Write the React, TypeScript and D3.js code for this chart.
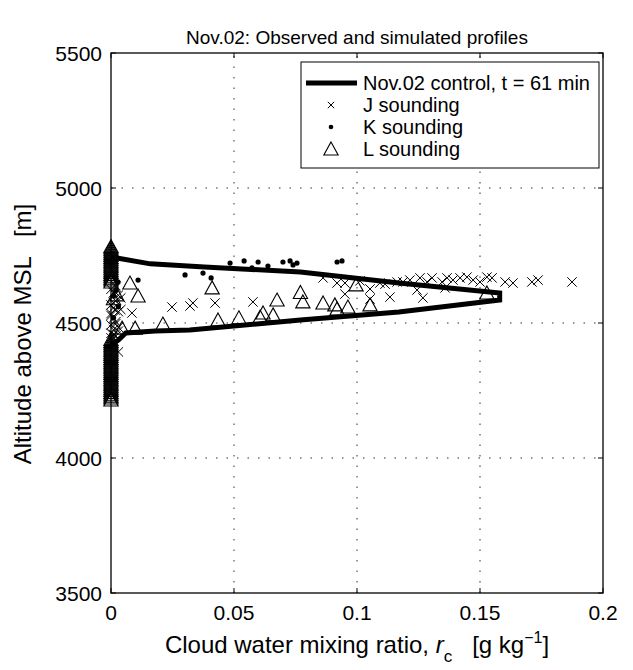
import React from "react";
import * as d3 from "d3";

// simulated profile (Nov.02 control, t = 61 min)
const controlAlt = [4419, 4437, 4463, 4470, 4474, 4511, 4541, 4585, 4611, 4648, 4689, 4707, 4719, 4741, 4744];
const controlRc = [0, 0.003, 0.006, 0.018, 0.032, 0.077, 0.117, 0.158, 0.158, 0.117, 0.077, 0.038, 0.016, 0.0024, 0];

// J sounding
const jRc = [
  0, 0.002, 0, 0.001, 0.003, 0, 0.002, 0.001, 0, 0.003, 0.001, 0, 0.002, 0.004, 0.001, 0, 0.002, 0.003,
  0.001, 0.003, 0.002, 0, 0.004, 0.001, 0.003, 0.002,
  0.0016, 0.0085, 0.0248, 0.0321, 0.0333, 0.0423, 0.0577, 0.0862, 0.0919, 0.0951, 0.0951, 0.1053, 0.1053,
  0.1093, 0.1114, 0.1012, 0.1134, 0.1163, 0.1187, 0.1215, 0.1244, 0.1256, 0.1268, 0.1285, 0.1305, 0.1346,
  0.1358, 0.1366, 0.139, 0.1419, 0.1447, 0.1472, 0.15, 0.1528, 0.1549, 0.1602, 0.1634, 0.1711, 0.1736, 0.1874,
];
const jAlt = [
  4445, 4452, 4462, 4475, 4484, 4493, 4505, 4518, 4528, 4542, 4556, 4567, 4582, 4593, 4612, 4625, 4638, 4393,
  4458, 4470, 4498, 4535, 4550, 4575, 4603, 4632,
  4548, 4537, 4559, 4563, 4574, 4574, 4578, 4667, 4648, 4648, 4607, 4626, 4589,
  4648, 4644, 4656, 4596, 4652, 4652, 4659, 4622, 4667, 4593, 4652, 4667, 4652,
  4630, 4667, 4659, 4667, 4670, 4659, 4652, 4670, 4667, 4652, 4648, 4652, 4659, 4652,
];

// K sounding
const kRc = [
  0.001, 0.002, 0.003, 0.001, 0.0028, 0.011, 0.0301, 0.0374, 0.0407, 0.0484, 0.0541, 0.0573, 0.0598,
  0.0638, 0.0699, 0.0728, 0.074, 0.0756, 0.0919, 0.0939,
];
const kAlt = [
  4600, 4620, 4560, 4520, 4652, 4659, 4678, 4685, 4667, 4722, 4730, 4704, 4726,
  4711, 4726, 4730, 4715, 4722, 4726, 4730,
];

// L sounding, non-zero values
const lRc = [
  0.0024, 0.0077, 0.011, 0.0045, 0.0098, 0.0211, 0.0411, 0.0435, 0.052, 0.0606, 0.0618, 0.0659, 0.0675,
  0.077, 0.078, 0.0862, 0.091, 0.0919, 0.0963, 0.0996, 0.1053, 0.1528, 0.001,
];
const lAlt = [
  4604, 4648, 4600, 4481, 4481, 4496, 4630, 4511, 4519, 4522, 4537, 4530, 4585,
  4613, 4578, 4574, 4567, 4552, 4559, 4641, 4567, 4611, 4590,
];
// L sounding, altitudes where r_c = 0
const lZeroAlt = [
  4215, 4222, 4229, 4236, 4243, 4250, 4257, 4264, 4271, 4278, 4285, 4292, 4299, 4306, 4313, 4320, 4327,
  4334, 4341, 4348, 4355, 4362, 4369, 4376, 4383, 4390, 4397, 4404, 4411, 4418, 4425, 4432, 4439,
  4652, 4659, 4666, 4673, 4680, 4687, 4694, 4701, 4708, 4715, 4722, 4729, 4736, 4743, 4750, 4757,
  4764, 4771, 4778, 4783,
];

const xTicks = [0, 0.05, 0.1, 0.15, 0.2];
const xTickLabels = ["0", "0.05", "0.1", "0.15", "0.2"];
const yTicks = [3500, 4000, 4500, 5000, 5500];
const yTickLabels = ["3500", "4000", "4500", "5000", "5500"];

const W = 633;
const H = 670;
const left = 111;
const right = 603;
const top = 53;
const bottom = 593;
const font = "Liberation Sans, Arial, Helvetica, sans-serif";

const triPath = (cx: number, cy: number, h: number) =>
  `M${cx},${cy - h * 0.54}L${cx + h * 0.55},${cy + h * 0.46}L${cx - h * 0.55},${cy + h * 0.46}Z`;
const xPath = (cx: number, cy: number, s: number) =>
  `M${cx - s},${cy - s}L${cx + s},${cy + s}M${cx - s},${cy + s}L${cx + s},${cy - s}`;

export default function App() {
  const x = d3.scaleLinear().domain([0, 0.2]).range([left, right]);
  const y = d3.scaleLinear().domain([3500, 5500]).range([bottom, top]);

  const control = controlAlt.map((a, i) => ({ rc: controlRc[i], alt: a }));
  const line = d3
    .line<{ rc: number; alt: number }>()
    .x((d) => x(d.rc))
    .y((d) => y(d.alt));

  const jPts = jAlt.map((a, i) => ({ rc: jRc[i], alt: a }));
  const kPts = kAlt.map((a, i) => ({ rc: kRc[i], alt: a }));
  const lPts = lAlt
    .map((a, i) => ({ rc: lRc[i], alt: a }))
    .concat(lZeroAlt.map((a) => ({ rc: 0, alt: a })));

  const tickLen = 5;
  const lg = { x0: 301, y0: 62, x1: 599, y1: 168 };
  const rows = [83, 105, 127, 149];

  return (
    <div style={{ position: "absolute", left: 0, top: 0 }}>
      <svg width={W} height={H} style={{ display: "block", background: "#fff" }} fontFamily={font}>
        <rect x={0} y={0} width={W} height={H} fill="#fff" />

        {/* grid */}
        <g stroke="#333" strokeWidth={1} strokeDasharray="1.5,9">
          {xTicks.slice(1, -1).map((t) => (
            <line key={"gx" + t} x1={x(t)} x2={x(t)} y1={bottom} y2={top} />
          ))}
          {yTicks.slice(1, -1).map((t) => (
            <line key={"gy" + t} x1={left} x2={right} y1={y(t)} y2={y(t)} />
          ))}
        </g>

        {/* ticks on all four sides */}
        <g stroke="#000" strokeWidth={1}>
          {xTicks.map((t) => (
            <g key={"tx" + t}>
              <line x1={x(t)} x2={x(t)} y1={bottom} y2={bottom - tickLen} />
              <line x1={x(t)} x2={x(t)} y1={top} y2={top + tickLen} />
            </g>
          ))}
          {yTicks.map((t) => (
            <g key={"ty" + t}>
              <line x1={left} x2={left + tickLen} y1={y(t)} y2={y(t)} />
              <line x1={right} x2={right - tickLen} y1={y(t)} y2={y(t)} />
            </g>
          ))}
        </g>

        {/* control profile */}
        <path d={line(control) || ""} fill="none" stroke="#000" strokeWidth={5} strokeLinejoin="miter" />

        {/* J sounding */}
        <g stroke="#000" strokeWidth={1} fill="none">
          {jPts.map((d, i) => (
            <path key={"j" + i} d={xPath(x(d.rc), y(d.alt), 4.7)} />
          ))}
        </g>

        {/* K sounding */}
        <g fill="#000">
          {kPts.map((d, i) => (
            <circle key={"k" + i} cx={x(d.rc)} cy={y(d.alt)} r={2.6} />
          ))}
        </g>

        {/* L sounding */}
        <g stroke="#000" strokeWidth={1.1} fill="none">
          {lPts.map((d, i) => (
            <path key={"l" + i} d={triPath(x(d.rc), y(d.alt), 13)} />
          ))}
        </g>

        {/* axes box */}
        <rect x={left} y={top} width={right - left} height={bottom - top} fill="none" stroke="#000" strokeWidth={1.3} />

        {/* tick labels */}
        <g fontSize={21} fill="#000">
          {xTicks.map((t, i) => (
            <text key={"xl" + t} x={x(t)} y={bottom + 27} textAnchor="middle">
              {xTickLabels[i]}
            </text>
          ))}
          {yTicks.map((t, i) => (
            <text key={"yl" + t} x={left - 9} y={y(t) + 7.5} textAnchor="end">
              {yTickLabels[i]}
            </text>
          ))}
        </g>

        {/* title */}
        <text x={(left + right) / 2} y={44} textAnchor="middle" fontSize={19}>
          Nov.02: Observed and simulated profiles
        </text>

        {/* axis labels */}
        <text x={357} y={653} textAnchor="middle" fontSize={24} xmlSpace="preserve">
          Cloud water mixing ratio, <tspan fontStyle="italic">r</tspan>
          <tspan fontSize={17} dy={9}>c</tspan>
          <tspan dy={-9}>{"   [g kg"}</tspan>
          <tspan fontSize={16} dy={-10}>−1</tspan>
          <tspan dy={10}>]</tspan>
        </text>
        <text
          transform={`translate(31,${(top + bottom) / 2 + 11}) rotate(-90)`}
          textAnchor="middle"
          fontSize={24}
          xmlSpace="preserve"
        >
          {"Altitude above MSL   [m]"}
        </text>

        {/* legend */}
        <g>
          <rect x={lg.x0} y={lg.y0} width={lg.x1 - lg.x0} height={lg.y1 - lg.y0} fill="#fff" stroke="#000" strokeWidth={1} />
          <line x1={306} x2={357} y1={rows[0]} y2={rows[0]} stroke="#000" strokeWidth={5} />
          <path d={xPath(331, rows[1], 3.2)} stroke="#000" strokeWidth={1} fill="none" />
          <circle cx={331} cy={rows[2]} r={2.3} fill="#000" />
          <path d={triPath(331, rows[3], 13)} stroke="#000" strokeWidth={1.1} fill="none" />
          <g fontSize={20} fill="#000">
            <text x={363} y={rows[0] + 7}>Nov.02 control, t = 61 min</text>
            <text x={363} y={rows[1] + 7}>J sounding</text>
            <text x={363} y={rows[2] + 7}>K sounding</text>
            <text x={363} y={rows[3] + 7}>L sounding</text>
          </g>
        </g>
      </svg>
    </div>
  );
}
